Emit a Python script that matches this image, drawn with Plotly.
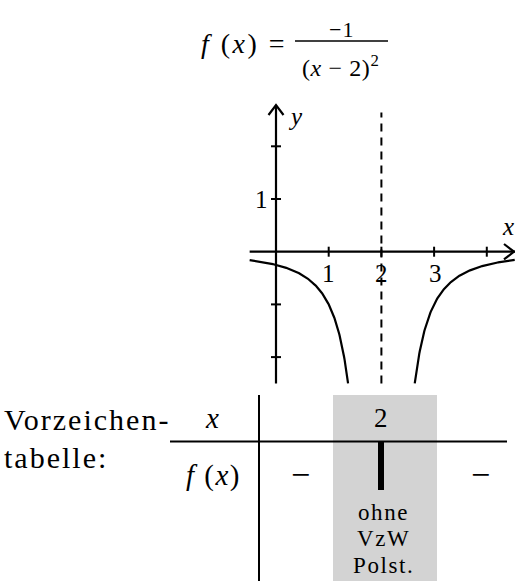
import numpy as np
import plotly.graph_objects as go

# ---- data ----
pole = 2.0
x_left_range = [-0.5, 1.3675]
x_right_range = [2.6325, 4.53]
x_ticks = [1, 2, 3, 4]
x_tick_labels = ["1", "2", "3", ""]
y_ticks = [2, 1, -1, -2]
y_tick_labels = ["", "1", "", ""]
table_header = ["<i>x</i>", "2"]
table_row_label = "<i>f</i> (<i>x</i>)"
table_signs = ["−", "−"]
pole_notes = ["ohne", "VzW", "Polst."]


def f(x):
    return -1.0 / (x - pole) ** 2


W, H = 515, 581
# pixel mapping: x_px = X0 + U*x ; y_px = Y0 - U*y
X0, Y0, U = 276.0, 251.7, 52.7
xr = [(0 - X0) / U, (W - X0) / U]
yr = [(Y0 - H) / U, (Y0 - 0) / U]

FONT = "Liberation Serif"

fig = go.Figure()

xl = np.linspace(*x_left_range, 200)
xrr = np.linspace(*x_right_range, 200)
for xs in (xl, xrr):
    fig.add_trace(go.Scatter(x=xs, y=f(xs), mode="lines",
                             line=dict(color="black", width=2.2),
                             hoverinfo="skip", showlegend=False))

shapes = []
# axes
shapes.append(dict(type="line", xref="x", yref="y", x0=-0.5, x1=xr[1], y0=0, y1=0,
                   line=dict(color="black", width=2.2)))
shapes.append(dict(type="line", xref="x", yref="y", x0=0, x1=0, y0=-2.5, y1=2.78,
                   line=dict(color="black", width=2.2)))


def P(px_, py_):
    return (px_ - X0) / U, (Y0 - py_) / U


ax, ay = P(276, 105)
a1x, a1y = P(268.5, 115)
a2x, a2y = P(283.5, 115)
shapes.append(dict(type="path", xref="x", yref="y",
                   path=f"M {a1x},{a1y} L {ax},{ay} L {a2x},{a2y}",
                   line=dict(color="black", width=2.2)))
bx, by = P(514, 251.7)
b1x, b1y = P(504, 244)
b2x, b2y = P(504, 259.4)
shapes.append(dict(type="path", xref="x", yref="y",
                   path=f"M {b1x},{b1y} L {bx},{by} L {b2x},{b2y}",
                   line=dict(color="black", width=2.2)))
tk = 5 / U
for t in x_ticks:
    shapes.append(dict(type="line", xref="x", yref="y", x0=t, x1=t, y0=-tk, y1=tk,
                       line=dict(color="black", width=2)))
for t in y_ticks:
    shapes.append(dict(type="line", xref="x", yref="y", x0=-tk, x1=tk, y0=t, y1=t,
                       line=dict(color="black", width=2)))
# asymptote
shapes.append(dict(type="line", xref="x", yref="y", x0=pole, x1=pole, y0=-2.5, y1=2.64,
                   line=dict(color="black", width=2, dash="8px,6px")))


# ---- table (pixel -> paper) ----
def px(x):
    return x / W


def py(y):
    return 1 - y / H


shapes.insert(0, dict(type="rect", xref="paper", yref="paper", x0=px(333), x1=px(437),
                      y0=py(395), y1=py(581), fillcolor="#d3d3d3", line=dict(width=0),
                      layer="below"))
shapes.append(dict(type="line", xref="paper", yref="paper", x0=px(259), x1=px(259),
                   y0=py(395), y1=py(581), line=dict(color="black", width=2)))
shapes.append(dict(type="line", xref="paper", yref="paper", x0=px(170), x1=px(507),
                   y0=py(441.5), y1=py(441.5), line=dict(color="black", width=2)))
shapes.append(dict(type="line", xref="paper", yref="paper", x0=px(381), x1=px(381),
                   y0=py(442), y1=py(490), line=dict(color="black", width=6)))

ann = []


def A(text, x, y, size, xanchor="center", ls=0, **kw):
    if ls:
        text = f'<span style="letter-spacing:{ls}px">{text}</span>'
    ann.append(dict(text=text, x=px(x), y=py(y), xref="paper", yref="paper",
                    showarrow=False, xanchor=xanchor, yanchor="middle",
                    font=dict(family=FONT, size=size, color="black"), **kw))


# title formula
A("<i>f</i> (<i>x</i>) =", 289, 44, 28, xanchor="right", ls=2.5)
A("−1", 341, 29, 22, ls=1)
A("(<i>x</i> − 2)<sup>2</sup>", 340, 66, 24, ls=0.6)
shapes.append(dict(type="line", xref="paper", yref="paper", x0=px(295), x1=px(388),
                   y0=py(41), y1=py(41), line=dict(color="black", width=1.5)))

# tick labels
xlab_pos = {1: 328, 2: 381, 3: 435, 4: 487}
for t, lab in zip(x_ticks, x_tick_labels):
    if lab:
        A(lab, xlab_pos[t], 273, 25)
for t, lab in zip(y_ticks, y_tick_labels):
    if lab:
        A(lab, 261, Y0 - U * t, 25)
A("<i>y</i>", 295, 117, 25)
A("<i>x</i>", 508, 226, 25)

# table texts
A("Vorzeichen-", 2, 419, 30, xanchor="left", ls=2)
A("tabelle:", 2, 457, 30, xanchor="left", ls=2)
A(table_header[0], 212, 418, 29)
A(table_header[1], 381, 418, 27)
A(table_row_label, 213, 475, 29, ls=1.5)
A(table_signs[0], 300, 474, 34)
A(table_signs[1], 480, 474, 34)
for i, n in enumerate(pole_notes):
    A(n, 383, 512 + 26.5 * i, 23, ls=1.6)

fig.update_layout(
    width=W, height=H, margin=dict(l=0, r=0, t=0, b=0),
    paper_bgcolor="white", plot_bgcolor="white",
    xaxis=dict(range=xr, visible=False, fixedrange=True),
    yaxis=dict(range=yr, visible=False, fixedrange=True),
    shapes=shapes, annotations=ann, showlegend=False,
)
fig.write_html("out.html", config={"displayModeBar": False},
               post_script="document.body.style.margin='0';document.body.style.padding='0';")
